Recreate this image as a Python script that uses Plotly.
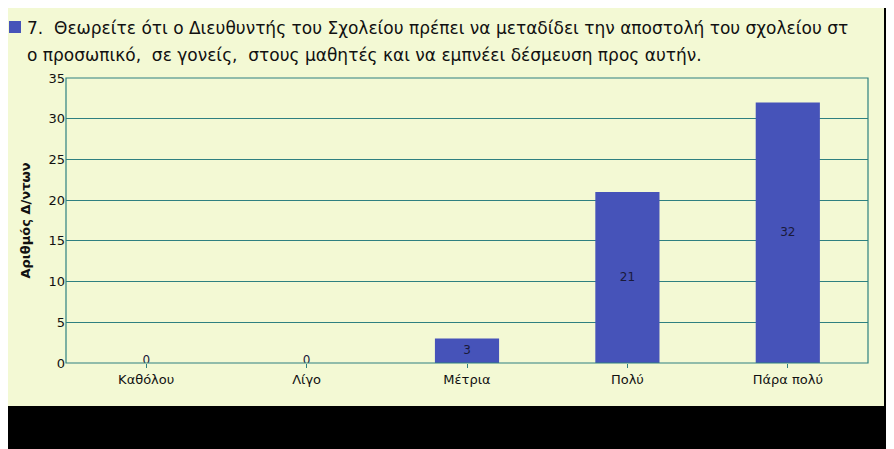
import plotly.graph_objects as go

categories = ["Καθόλου", "Λίγο", "Μέτρια", "Πολύ", "Πάρα πολύ"]
values = [0, 0, 3, 21, 32]
title_lines = ["7.  Θεωρείτε ότι ο Διευθυντής του Σχολείου πρέπει να μεταδίδει την αποστολή του σχολείου στ",
               "ο προσωπικό,  σε γονείς,  στους μαθητές και να εμπνέει δέσμευση προς αυτήν."]

OFF = 8  # browser body margin
W, H = 894, 449
L, T = 66 - OFF, 78 - OFF
pw, ph = 802, 285
R = W - L - pw
B = H - T - ph
def px(x): return (x - OFF - L) / pw
def py(y): return (T + ph - (y - OFF)) / ph

fig = go.Figure()
fig.add_bar(x=categories, y=values, width=0.4, marker=dict(color="#4653B9", line=dict(width=0)),
            hoverinfo="skip")
fig.add_scatter(x=categories, y=[v / 2 if v > 0 else 0.2 for v in values], mode="text",
                text=[str(v) for v in values], textfont=dict(size=12, color="#1a1a3a", family="DejaVu Sans"),
                hoverinfo="skip")

shapes = [
    dict(type="rect", xref="paper", yref="paper", x0=px(-10), x1=px(884), y0=py(406), y1=py(2),
         fillcolor="#F3F9D4", line=dict(width=0), layer="below"),
    dict(type="rect", xref="paper", yref="paper", x0=0, x1=1, y0=0, y1=1,
         fillcolor="rgba(0,0,0,0)", line=dict(color="#2E8080", width=1.2)),
    dict(type="rect", xref="paper", yref="paper", x0=px(9), x1=px(21), y0=py(33), y1=py(21),
         fillcolor="#4653B9", line=dict(width=0)),
]
ann = [
    dict(xref="paper", yref="paper", x=px(25), y=py(28), xanchor="left", yanchor="middle",
         text=title_lines[0], showarrow=False, font=dict(size=17, color="#111", family="DejaVu Sans")),
    dict(xref="paper", yref="paper", x=px(25), y=py(55), xanchor="left", yanchor="middle",
         text=title_lines[1], showarrow=False, font=dict(size=17, color="#111", family="DejaVu Sans")),
]
fig.update_layout(
    width=W, height=H, margin=dict(l=L, r=R, t=T, b=B),
    paper_bgcolor="black", plot_bgcolor="#FDFEEC", showlegend=False,
    shapes=shapes, annotations=ann, bargap=0.6,
    font=dict(family="DejaVu Sans", color="#111"),
    xaxis=dict(tickfont=dict(size=13), showgrid=False, ticks="outside", ticklen=4, tickcolor="#2E8080"),
    yaxis=dict(range=[0, 35], dtick=5, gridcolor="#2E8080", gridwidth=1, tickfont=dict(size=13),
               zeroline=False,
               title=dict(text="<b>Αριθμός Δ/ντων</b>", font=dict(size=13, color="#111"), standoff=14)),
)
fig.write_html("out.html")
